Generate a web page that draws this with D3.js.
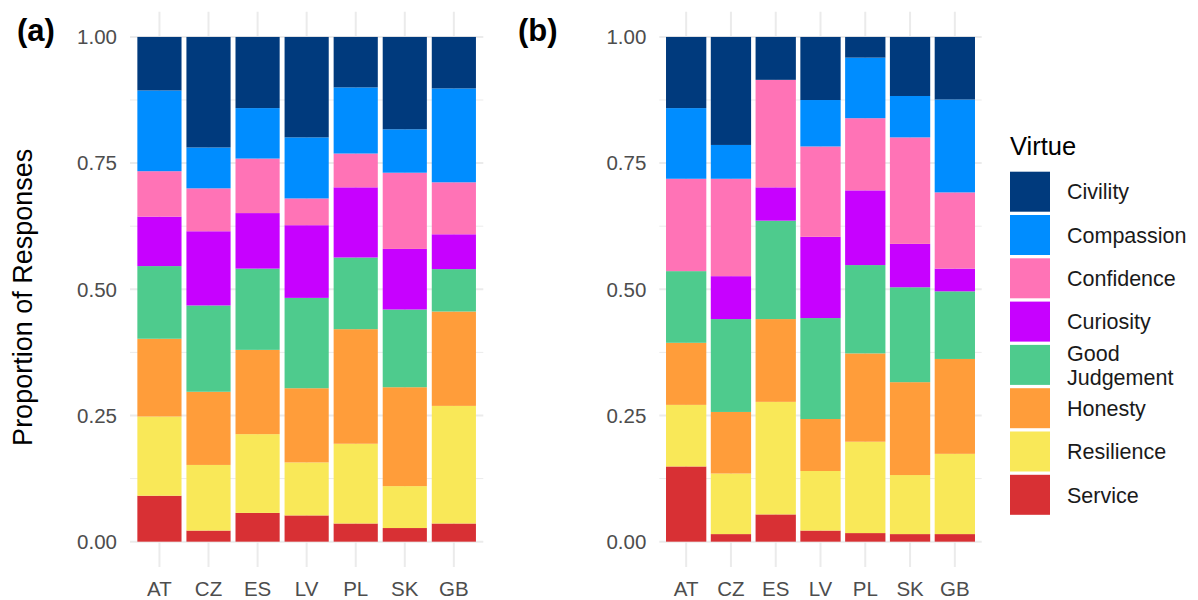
<!DOCTYPE html>
<html>
<head>
<meta charset="utf-8">
<script src="https://cdn.jsdelivr.net/npm/d3@7"></script>
<style>
  body { margin: 0; background: #fff; }
  svg { display: block; font-family: Arial, "Liberation Sans", sans-serif; }
</style>
</head>
<body>
<div id="chart"></div>
<script>
// categories
var countries = ["AT", "CZ", "ES", "LV", "PL", "SK", "GB"];
var virtues = ["Civility", "Compassion", "Confidence", "Curiosity", "Good Judgement", "Honesty", "Resilience", "Service"];
var virtueColors = ["#003a7d", "#008dff", "#ff73b6", "#c701ff", "#4ecb8d", "#ff9d3a", "#f9e858", "#d83034"];
var yTicks = [0, 0.25, 0.5, 0.75, 1];

// panel (a) shares, one value per country
var civilityA   = [0.106, 0.219, 0.141, 0.199, 0.100, 0.183, 0.102];
var compassionA = [0.160, 0.081, 0.100, 0.121, 0.131, 0.086, 0.186];
var confidenceA = [0.090, 0.085, 0.108, 0.053, 0.067, 0.151, 0.103];
var curiosityA  = [0.098, 0.147, 0.110, 0.144, 0.139, 0.120, 0.069];
var judgementA  = [0.144, 0.171, 0.161, 0.179, 0.142, 0.154, 0.084];
var honestyA    = [0.154, 0.145, 0.167, 0.147, 0.227, 0.196, 0.187];
var resilienceA = [0.157, 0.130, 0.156, 0.105, 0.158, 0.083, 0.233];
var serviceA    = [0.091, 0.022, 0.057, 0.052, 0.036, 0.027, 0.036];

// panel (b)
var civilityB   = [0.141, 0.214, 0.085, 0.125, 0.041, 0.117, 0.124];
var compassionB = [0.140, 0.067, 0.000, 0.092, 0.120, 0.082, 0.184];
var confidenceB = [0.183, 0.193, 0.213, 0.179, 0.143, 0.211, 0.151];
var curiosityB  = [0.000, 0.085, 0.066, 0.161, 0.148, 0.086, 0.045];
var judgementB  = [0.142, 0.184, 0.195, 0.200, 0.175, 0.188, 0.134];
var honestyB    = [0.123, 0.122, 0.164, 0.103, 0.175, 0.184, 0.188];
var resilienceB = [0.122, 0.120, 0.223, 0.118, 0.181, 0.117, 0.159];
var serviceB    = [0.149, 0.015, 0.054, 0.022, 0.017, 0.015, 0.015];

var seriesA = [civilityA, compassionA, confidenceA, curiosityA, judgementA, honestyA, resilienceA, serviceA];
var seriesB = [civilityB, compassionB, confidenceB, curiosityB, judgementB, honestyB, resilienceB, serviceB];

var W = 1198, H = 600;
var svg = d3.select("#chart").append("svg")
    .attr("width", W)
    .attr("height", H);

var color = d3.scaleOrdinal().domain(virtues).range(virtueColors);

// y scale shared (ggplot style 5% expansion)
var y = d3.scaleLinear().domain([-0.05, 1.05]).range([566.9, 11.7]);

function rowsFor(series) {
  return countries.map(function(c, i) {
    var row = {country: c};
    virtues.forEach(function(v, j) { row[v] = series[j][i]; });
    return row;
  });
}

function drawPanel(series, x0, x1, tag, tagX) {
  var g = svg.append("g");
  var x = d3.scalePoint().domain(countries).range([x0, x1]).padding(0.6);
  var bw = x.step() * 0.9;

  // minor grid
  g.selectAll(".minor")
    .data([0.125, 0.375, 0.625, 0.875])
    .enter().append("line")
    .attr("x1", x0).attr("x2", x1)
    .attr("y1", function(d) { return y(d); })
    .attr("y2", function(d) { return y(d); })
    .attr("stroke", "#ebebeb")
    .attr("stroke-width", 1);

  // major grid
  g.selectAll(".hmajor")
    .data(yTicks)
    .enter().append("line")
    .attr("x1", x0).attr("x2", x1)
    .attr("y1", function(d) { return y(d); })
    .attr("y2", function(d) { return y(d); })
    .attr("stroke", "#ebebeb")
    .attr("stroke-width", 2);

  g.selectAll(".vmajor")
    .data(countries)
    .enter().append("line")
    .attr("x1", function(d) { return x(d); })
    .attr("x2", function(d) { return x(d); })
    .attr("y1", y.range()[1]).attr("y2", y.range()[0])
    .attr("stroke", "#ebebeb")
    .attr("stroke-width", 2);

  // stacked bars, Service at the bottom
  var stack = d3.stack()
    .keys(virtues.slice().reverse())
    .offset(d3.stackOffsetExpand);
  var layers = stack(rowsFor(series));

  g.selectAll(".layer")
    .data(layers)
    .enter().append("g")
    .attr("fill", function(d) { return color(d.key); })
    .selectAll("rect")
    .data(function(d) { return d; })
    .enter().append("rect")
    .attr("x", function(d) { return x(d.data.country) - bw / 2; })
    .attr("width", bw)
    .attr("y", function(d) { return y(d[1]); })
    .attr("height", function(d) { return Math.max(0, y(d[0]) - y(d[1])); });

  // y axis labels
  g.selectAll(".ylab")
    .data(yTicks)
    .enter().append("text")
    .attr("x", x0 - 13)
    .attr("y", function(d) { return y(d); })
    .attr("dy", "0.36em")
    .attr("text-anchor", "end")
    .attr("fill", "#4d4d4d")
    .style("font-size", "20.5px")
    .text(d3.format(".2f"));

  // x axis labels
  g.selectAll(".xlab")
    .data(countries)
    .enter().append("text")
    .attr("x", function(d) { return x(d); })
    .attr("y", 596)
    .attr("text-anchor", "middle")
    .attr("fill", "#4d4d4d")
    .style("font-size", "20.5px")
    .text(function(d) { return d; });

  svg.append("text")
    .attr("x", tagX)
    .attr("y", 41)
    .style("font-size", "31px")
    .style("font-weight", "bold")
    .text(tag);
}

drawPanel(seriesA, 130, 483.3, "(a)", 17);
drawPanel(seriesB, 659.3, 981.7, "(b)", 518);

// y axis title
svg.append("text")
  .attr("transform", "translate(32," + ((11.7 + 566.9) / 2 + 8) + ") rotate(-90)")
  .attr("text-anchor", "middle")
  .style("font-size", "27px")
  .text("Proportion of Responses");

// legend
var legend = svg.append("g").attr("transform", "translate(1010,0)");
legend.append("text")
  .attr("x", 0).attr("y", 155)
  .style("font-size", "25.5px")
  .text("Virtue");

var keyStep = 43.3, keyTop = 171.7;
var items = legend.selectAll(".item")
  .data(virtues)
  .enter().append("g")
  .attr("transform", function(d, i) { return "translate(0," + (keyTop + i * keyStep) + ")"; });

items.append("rect")
  .attr("width", 40).attr("height", 40)
  .attr("fill", function(d) { return color(d); });

items.each(function(d) {
  var words = d === "Good Judgement" ? ["Good", "Judgement"] : [d];
  var t = d3.select(this).append("text")
    .attr("x", 57)
    .style("font-size", "21.5px")
    .attr("fill", "#1a1a1a");
  words.forEach(function(w, k) {
    t.append("tspan")
      .attr("x", 57)
      .attr("y", 20 + (k - (words.length - 1) / 2) * 24)
      .attr("dy", "0.36em")
      .text(w);
  });
});
</script>
</body>
</html>
